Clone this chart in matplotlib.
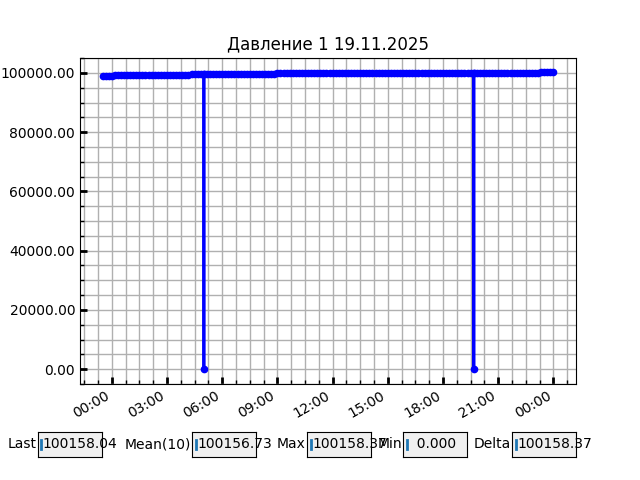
"""Pressure log for one day with summary boxes underneath."""

import matplotlib
matplotlib.use("Agg")
import matplotlib.pyplot as plt
import matplotlib.dates as mdates
from matplotlib.ticker import AutoMinorLocator, FormatStrFormatter
import pandas as pd

title = "Давление 1 19.11.2025"
start_time = "2025-11-18 23:30"
sample_step = "10min"

# regular readings, one per 10 minutes, starting 23:30 on 18.11
pressure = [
    98960, 98975, 98990,
    99010, 99290, 99300, 99305, 99310, 99310,          # 00
    99315, 99320, 99318, 99322, 99325, 99330,          # 01
    99330, 99335, 99332, 99338, 99340, 99342,          # 02
    99345, 99348, 99350, 99352, 99355, 99360,          # 03
    99365, 99370, 99620, 99625, 99630, 99632,          # 04
    99633, 99635, 99640, 99638, 99642, 99645,          # 05
    99648, 99650, 99652, 99655, 99655, 99658,          # 06
    99660, 99662, 99665, 99663, 99668, 99670,          # 07
    99672, 99675, 99678, 99680, 99682, 99685,          # 08
    99880, 99885, 99888, 99890, 99892, 99895,          # 09
    99896, 99897, 99896, 99898, 99899, 99900,          # 10
    99900, 99901, 99900, 99902, 99903, 99902,          # 11
    99903, 99904, 99903, 99902, 99904, 99905,          # 12
    99905, 99904, 99906, 99905, 99906, 99907,          # 13
    99906, 99907, 99905, 99906, 99907, 99906,          # 14
    99905, 99904, 99905, 99906, 99905, 99904,          # 15
    99904, 99903, 99904, 99905, 99904, 99905,          # 16
    99905, 99906, 99905, 99906, 99907, 99906,          # 17
    99906, 99905, 99906, 99907, 99906, 99905,          # 18
    99905, 99906, 99908, 99907, 99908, 99910,          # 19
    99909, 99910, 99911, 99910, 99912, 99911,          # 20
    99912, 99913, 99912, 99914, 99913, 99914,          # 21
    99914, 99915, 99914, 99916, 99915, 99916,          # 22
    99915, 99918, 100150, 100155, 100157, 100158.37,   # 23
    100158.04,
]

# sensor dropouts, logged between the regular readings
dropout_times = ["2025-11-19 05:00:30", "2025-11-19 05:01:00",
                 "2025-11-19 19:40:30", "2025-11-19 19:41:00"]
dropout_values = [0, 99634, 0, 99909]

box_labels = ["Last", "Mean(10)", "Max", "Min", "Delta"]
box_texts = ["100158.04", "100156.73", "100158.37", "  0.000", "100158.37"]
box_left = [0.059, 0.300, 0.480, 0.630, 0.800]

regular = pd.Series(pressure,
                    index=pd.date_range(start_time, periods=len(pressure),
                                        freq=sample_step))
dropouts = pd.Series(dropout_values,
                     index=pd.to_datetime(dropout_times, format="%Y-%m-%d %H:%M:%S"))
series = pd.concat([regular, dropouts]).sort_index()

fig = plt.figure(figsize=(6.4, 4.8), dpi=100)
ax = fig.add_axes([0.125, 0.2, 0.775, 0.68])

ax.plot(series.index, series.values, color="blue", marker="o",
        markersize=4.5, linewidth=2)
ax.set_title(title, fontsize=12)

ax.xaxis.set_major_locator(mdates.HourLocator(byhour=range(0, 24, 3)))
ax.xaxis.set_major_formatter(mdates.DateFormatter("%H:%M"))
ax.xaxis.set_minor_locator(AutoMinorLocator())
ax.yaxis.set_major_formatter(FormatStrFormatter("%.2f"))
ax.yaxis.set_minor_locator(AutoMinorLocator())

ax.tick_params(which="major", direction="in", length=5, width=2)
ax.tick_params(which="minor", direction="in", length=3, width=1)
ax.grid(which="both", color="#b0b0b0", linewidth=1)
ax.set_axisbelow(True)

for lbl in ax.get_xticklabels():
    lbl.set_rotation(30)
    lbl.set_ha("right")

# summary boxes along the bottom edge
for label, text, left in zip(box_labels, box_texts, box_left):
    bax = fig.add_axes([left, 0.048, 0.1, 0.052])
    bax.set_facecolor("#f0f0f0")
    bax.set_xticks([])
    bax.set_yticks([])
    bax.set_xlim(0, 1)
    bax.set_ylim(0, 1)
    bax.text(-0.02, 0.5, label, transform=bax.transAxes,
             ha="right", va="center", fontsize=10)
    bax.plot([0.058, 0.058], [0.3, 0.66], color="C0", linewidth=2)
    bax.text(0.08, 0.5, text, transform=bax.transAxes,
             ha="left", va="center", fontsize=10, clip_on=False)

fig.savefig("out.png", dpi=100)
